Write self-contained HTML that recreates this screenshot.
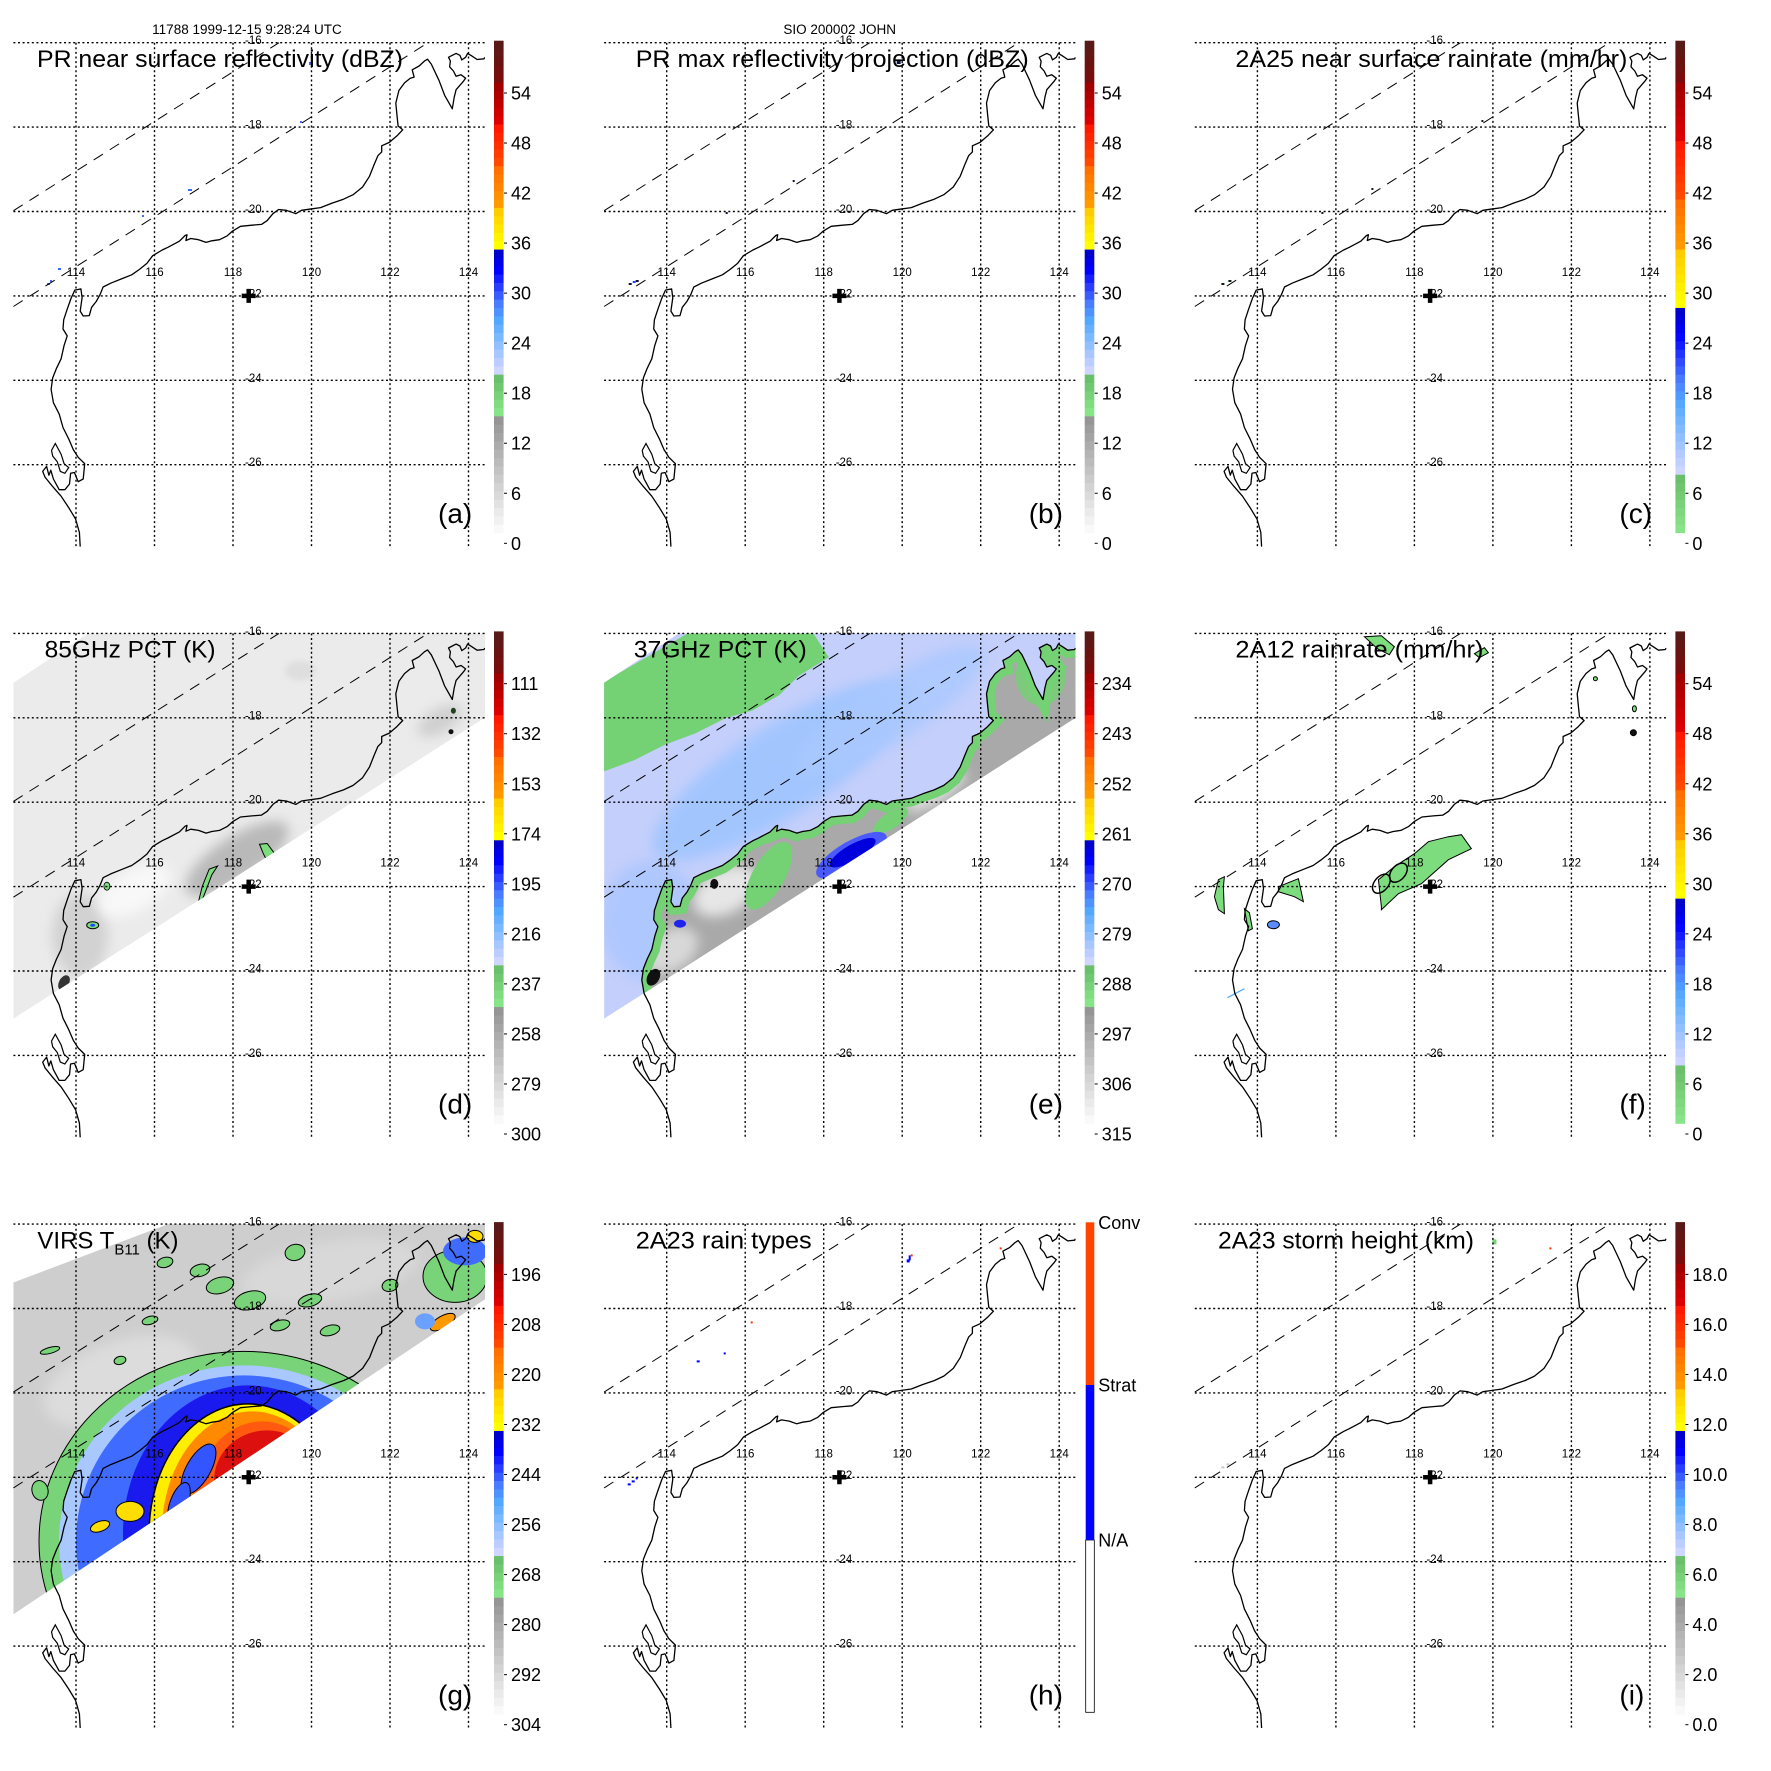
<!DOCTYPE html>
<html><head><meta charset="utf-8"><title>TRMM JOHN 1999-12-15 panels</title>
<style>
html,body{margin:0;padding:0;background:#fff;}
svg{display:block;font-family:"Liberation Sans",Arial,sans-serif;}
</style></head>
<body>
<svg id="fig" width="1771" height="1771" viewBox="0 0 1771 1771" xmlns="http://www.w3.org/2000/svg">
<defs>
<filter id="blur6" x="-50%" y="-50%" width="200%" height="200%"><feGaussianBlur stdDeviation="6"/></filter>
<filter id="blur3" x="-50%" y="-50%" width="200%" height="200%"><feGaussianBlur stdDeviation="3"/></filter>
</defs>
</svg>
<script>
// ---- data arrays ----
const lonTicks = [114,116,118,120,122,124];
const latTicks = [-16,-18,-20,-22,-24,-26];
const lonLabels = ['114','116','118','120','122','124'];
const latLabels = ['-16','-18','-20','-22','-24','-26'];
const cbLabels_dbz = ['0','6','12','18','24','30','36','42','48','54'];
const cbLabels_rain = ['0','6','12','18','24','30','36','42','48','54'];
const cbLabels_pct85 = ['300','279','258','237','216','195','174','153','132','111'];
const cbLabels_pct37 = ['315','306','297','288','279','270','261','252','243','234'];
const cbLabels_virs = ['304','292','280','268','256','244','232','220','208','196'];
const cbLabels_height = ['0.0','2.0','4.0','6.0','8.0','10.0','12.0','14.0','16.0','18.0'];
const rainTypeLabels = ['N/A','Strat','Conv'];
const stormCenter = [118.4,-22.0];

const coastMain = [[210,1432],[208,1395],[198,1360],[180,1330],[160,1300],[138,1275],[118,1250],[112,1235],[122,1222],[128,1245],[133,1232],[140,1255],[155,1283],[170,1283],[182,1268],[185,1240],[195,1238],[205,1262],[218,1255],[222,1215],[205,1198],[192,1178],[180,1150],[165,1120],[155,1085],[140,1055],[134,1020],[138,990],[148,965],[160,940],[168,905],[176,880],[165,862],[167,838],[176,810],[186,782],[196,760],[212,757],[215,780],[210,815],[218,828],[234,827],[240,805],[252,790],[262,772],[270,752],[290,742],[320,730],[345,720],[365,706],[385,690],[400,670],[425,655],[440,648],[470,632],[485,617],[490,615],[487,630],[500,625],[520,628],[540,635],[555,631],[575,628],[595,618],[610,605],[630,593],[660,590],[685,588],[700,578],[715,560],[730,549],[750,551],[775,560],[790,551],[810,548],[840,544],[870,532],[900,522],[925,510],[950,490],[968,462],[980,432],[990,408],[1000,398],[1000,382],[1020,373],[1040,356],[1055,340],[1043,330],[1040,300],[1037,270],[1045,237],[1060,217],[1075,205],[1085,202],[1080,183],[1098,173],[1112,160],[1120,155],[1130,168],[1150,210],[1165,250],[1185,285],[1190,255],[1195,235],[1215,212],[1220,205],[1208,196],[1195,200],[1188,186],[1178,175],[1180,160],[1175,150],[1185,145],[1195,140],[1205,145],[1210,157],[1220,150],[1225,140],[1235,146],[1250,156],[1268,154],[1270,150]];
const coastPeron = [[135,1180],[145,1162],[160,1190],[168,1215],[180,1225],[170,1240],[158,1235],[150,1210],[138,1195],[135,1180]];

// ---- helpers ----
const NS='http://www.w3.org/2000/svg';
const svg=document.getElementById('fig');
const defs=svg.querySelector('defs');
function mk(tag, attrs, parent){const e=document.createElementNS(NS,tag);for(const k in attrs)e.setAttribute(k,attrs[k]);(parent||svg).appendChild(e);return e;}
const S=1/2.62;
function P(arr){return arr.map(p=>(p[0]*S).toFixed(1)+','+(p[1]*S).toFixed(1)).join(' ');}
function L(arr){return arr.map(p=>p[0].toFixed(1)+','+p[1].toFixed(1)).join(' ');}
const lonX = lon => 76 + (lon-114)*39.25;
const latY = lat => 42.7 + (-16-lat)*42.2;
const MX0=13.4, MX1=485, MY0=42.7, MY1=547;
const PITCH=590.7;

function hex(c){return [parseInt(c.substr(1,2),16),parseInt(c.substr(3,2),16),parseInt(c.substr(5,2),16)];}
function ramp(cols,n){const out=[];for(let i=0;i<n;i++){const t=n==1?0:i/(n-1)*(cols.length-1);const k=Math.min(Math.floor(t),cols.length-2);const f=t-k;const a=hex(cols[k]),b=hex(cols[k+1]);out.push('rgb('+a.map((v,j)=>Math.round(v+(b[j]-v)*f)).join(',')+')');}return out;}
const blues=['#ced6ff','#a8c6ff','#7ab8ff','#52a8ff','#4a7cff','#2a3cff','#0000ff','#0000cc'];
const palGrey=[].concat(ramp(['#f9f9f9','#959595'],14),ramp(['#88e488','#6abf6a'],5),ramp(blues,15),ramp(['#ffff00','#ffcc00'],5),ramp(['#ff9a00','#ff7000'],5),ramp(['#ff4800','#ff1800'],5),ramp(['#dd0000','#a00000'],5),ramp(['#7a0c0c','#581a16'],5));
const palGreen=[].concat(ramp(['#88e488','#6abf6a'],7),ramp(blues,20),ramp(['#ffff00','#ffcc00'],7),ramp(['#ff9a00','#ff7000'],6),ramp(['#ff4800','#ff1800'],7),ramp(['#dd0000','#a00000'],7),ramp(['#7a0c0c','#581a16'],5));

const swathDE=[[13.4,92],[88,42.7],[485,42.7],[485,127],[13.4,428]];
const swathG=[[13.4,101],[168,42.7],[485,42.7],[485,118],[13.4,433]];
function clip(id,pts){const c=mk('clipPath',{id:id,clipPathUnits:'userSpaceOnUse'},defs);mk('polygon',{points:pts},c);}
clip('mapclip',L([[MX0,MY0],[MX1,MY0],[MX1,MY1],[MX0,MY1]]));
clip('swathde',L(swathDE));
clip('swathg',L(swathG));
clip('landclip',P(coastMain.concat([[1275,1440],[205,1440]])));

function colorbar(g,pal,labels){
  const segH=492/59, top=532.7;
  const cb=mk('g',{},g);
  
  
  pal.forEach((c,i)=>{
    const r=mk('rect',{x:494,y:(top-(i+1)*segH).toFixed(2),width:9.6,height:(segH+0.4).toFixed(2),fill:c},cb);
    
    
  });
  labels.forEach((t,i)=>{
    const y=top+10.6-i*6*segH+6.5;
    const tk=mk('line',{x1:504,x2:507,y1:y-6.5,y2:y-6.5,stroke:'#000','stroke-width':1},cb);
    
    
    const tx=mk('text',{x:511,y:y.toFixed(1),'font-size':18,fill:'#000'},cb);
    tx.textContent=t;
    
    
  });
}
function colorbarTypes(g){
  const cb=mk('g',{},g);
  
  
  const x=1085.7-PITCH, top=1222.3-2*PITCH, y1=1385-2*PITCH, y2=1540-2*PITCH, bot=1712.3-2*PITCH;
  const cols=['#ffffff','#0000ff','#ff4400'];
  const bounds=[[y2,bot],[y1,y2],[top,y1]];
  bounds.forEach((b,i)=>{
    const r=mk('rect',{x:x,y:b[0],width:8.6,height:b[1]-b[0],fill:cols[i],stroke:i==0?'#000':'none','stroke-width':0.8},cb);
    
    
  });
  const ys=[y2,y1,top];
  rainTypeLabels.forEach((t,i)=>{
    const tx=mk('text',{x:x+12.5,y:ys[i]+6.5,'font-size':18,fill:'#000'},cb);
    tx.textContent=t;
    
    
  });
}

function basemap(g){
  const cg=mk('g',{'clip-path':'url(#mapclip)'},g);
  
  
  mk('polyline',{points:P(coastMain),fill:'none',stroke:'#000','stroke-width':1.3,'stroke-linejoin':'round'},cg);
  mk('polyline',{points:P(coastPeron),fill:'none',stroke:'#000','stroke-width':1.2},cg);
  const gg=mk('g',{stroke:'#000','stroke-width':1.4,'stroke-dasharray':'2 2.6'},g);
  
  
  lonTicks.forEach(lo=>{const l=mk('line',{x1:lonX(lo),x2:lonX(lo),y1:MY0,y2:MY1},gg);
    
    });
  latTicks.forEach(la=>{const l=mk('line',{x1:MX0,x2:MX1,y1:latY(la),y2:latY(la)},gg);
    
    });
  const dg=mk('g',{stroke:'#000','stroke-width':1,'stroke-dasharray':'11 8',fill:'none'},g);
  
  
  mk('line',{x1:13.4,y1:210.7,x2:279,y2:42.7},dg);
  mk('line',{x1:13.4,y1:306.5,x2:428,y2:42.7},dg);
  lonTicks.forEach((lo,i)=>{const t=mk('text',{x:lonX(lo),y:276,'font-size':11.5,'text-anchor':'middle'},g);t.textContent=lonLabels[i];
    
    });
  latTicks.forEach((la,i)=>{const t=mk('text',{x:245,y:latY(la)+1.5,'font-size':11.5},g);t.textContent=latLabels[i];
    
    });
  const cx=lonX(stormCenter[0]), cy=latY(stormCenter[1]);
  const pm=mk('path',{d:`M${cx-7},${cy} H${cx+7} M${cx},${cy-7} V${cy+7}`,stroke:'#000','stroke-width':4.5},g);
  
  
}

function title(g,txt,x,w){
  const t=mk('text',{x:x,y:67,'font-size':24,fill:'#000',textLength:w,lengthAdjust:'spacingAndGlyphs'},g);
  t.textContent=txt;
  
  
  return t;
}
function letter(g,l){
  const t=mk('text',{x:438,y:523,'font-size':28,fill:'#000'},g);
  t.textContent='('+l+')';
  
  
}
function E(par,cx,cy,rx,ry,rot,fill,extra){const a={cx:cx,cy:cy,rx:rx,ry:ry,fill:fill,transform:`rotate(${rot} ${cx} ${cy})`};Object.assign(a,extra||{});return mk('ellipse',a,par);}

function panelGroup(col,row,name){
  const g=mk('g',{transform:`translate(${(col*PITCH).toFixed(1)},${(row*PITCH).toFixed(1)})`});
  
  
  return g;
}

const h1=mk('text',{x:247,y:34,'font-size':13.5,'text-anchor':'middle'});
h1.textContent='11788 1999-12-15 9:28:24 UTC';


const h2=mk('text',{x:PITCH+249,y:34,'font-size':13.5,'text-anchor':'middle'});
h2.textContent='SIO 200002 JOHN';



function specks(g,list,col){list.forEach(p=>{const r=mk('rect',{x:p[0],y:p[1],width:p[2]||3,height:p[3]||2,fill:col},g);
  
  });}

// ---- (a) ----
let g=panelGroup(0,0,'panel-a-pr-reflectivity');
specks(g,[[47,283,3,2],[50,280,2,2],[58,268,3,2],[142,215,2,2],[188,189,4,2],[300,121,2,2],[309,62,2,3]],'#3a6aff');
basemap(g);title(g,'PR near surface reflectivity (dBZ)',37,366);letter(g,'a');colorbar(g,palGrey,cbLabels_dbz);

// ---- (b) ----
g=panelGroup(1,0,'panel-b-pr-max-reflectivity');
specks(g,[[38,283,3,2],[45,280,3,2],[135,212,2,2],[202,180,2,2],[306,60,4,4]],'#101040');
specks(g,[[42,281,3,2]],'#2244ff');
basemap(g);title(g,'PR max reflectivity projection (dBZ)',45,393);letter(g,'b');colorbar(g,palGrey,cbLabels_dbz);

// ---- (c) ----
g=panelGroup(2,0,'panel-c-2a25-rainrate');
specks(g,[[40,283,3,2],[47,280,3,2],[140,212,2,2],[190,188,2,2],[300,120,2,2]],'#102010');
basemap(g);title(g,'2A25 near surface rainrate (mm/hr)',54,392);letter(g,'c');colorbar(g,palGreen,cbLabels_rain);

// ---- (d) ----
g=panelGroup(0,1,'panel-d-85ghz-pct');
let fg=mk('g',{'clip-path':'url(#swathde)'},g);


mk('polygon',{points:L(swathDE),fill:'#ebebeb'},fg);
E(fg,237,268,60,22,-33,'#b9b9b9',{filter:'url(#blur6)'});
E(fg,80,345,28,42,0,'#d2d2d2',{filter:'url(#blur6)'});
E(fg,135,300,40,20,-30,'#f8f8f8',{filter:'url(#blur6)'});
E(fg,440,130,25,12,-30,'#cfcfcf',{filter:'url(#blur6)'});
E(fg,300,80,15,10,0,'#dedede',{filter:'url(#blur3)'});
mk('polygon',{points:L([[217.6,275.3],[211.8,284.1],[206.1,299.4],[200.4,313.9],[198.5,310.8],[202.3,295.6],[209.2,278.4]]),fill:'#7ddc7d',stroke:'#000','stroke-width':1},fg);
mk('polygon',{points:L([[259.5,253.6],[267.2,252.8],[274.8,263.1],[272.9,268.9],[267.2,270.8],[263.4,263.1]]),fill:'#7ddc7d',stroke:'#000','stroke-width':1},fg);
E(fg,92.7,334.5,6,3.5,0,'#7ddc7d',{stroke:'#000','stroke-width':1});
E(fg,92.7,334.5,2.5,1.5,0,'#2244ff');
E(fg,106.9,295.5,3,4,0,'#7ddc7d',{stroke:'#000','stroke-width':0.8});
E(fg,453.4,120,2.5,3,0,'#204020');E(fg,451,141,2.5,2.5,0,'#111');
E(fg,64,392,5,8,30,'#333');
basemap(g);title(g,'85GHz PCT (K)',44.6,171);letter(g,'d');colorbar(g,palGrey,cbLabels_pct85);

// ---- (e) ----
g=panelGroup(1,1,'panel-e-37ghz-pct');
fg=mk('g',{'clip-path':'url(#swathde)'},g);


mk('polygon',{points:L(swathDE),fill:'#c4cffb'},fg);
E(fg,190,180,150,45,-33,'#9ec4ff',{filter:'url(#blur6)',opacity:0.85});
E(fg,300,120,110,30,-33,'#a9c8ff',{filter:'url(#blur6)',opacity:0.8});
E(fg,60,330,50,60,0,'#a6c4ff',{filter:'url(#blur6)',opacity:0.7});
mk('polygon',{points:L([[13.1,91.2],[97,42.7],[222.7,42.7],[238,66.5],[207.5,85.5],[188.4,104.6],[161.7,119.8],[135,127.4],[104.6,142.7],[74.1,154.1],[43.6,169.4],[13.1,180.8]]),fill:'#74d174'},fg);
let lg=mk('g',{'clip-path':'url(#landclip)'},fg);
mk('rect',{x:0,y:0,width:500,height:560,fill:'#a9a9a9'},lg);
E(lg,135,300,35,22,-30,'#e6e6e6',{filter:'url(#blur6)'});
E(lg,345,200,35,12,-33,'#dcdcdc',{filter:'url(#blur6)'});
E(lg,80,360,30,20,-33,'#d8d8d8',{filter:'url(#blur6)'});
mk('polyline',{points:P(coastMain),fill:'none',stroke:'#74d174','stroke-width':16},lg);
E(lg,178,285,16,38,30,'#74d174');
E(lg,300,230,20,8,-33,'#74d174');
E(lg,450,85,25,30,0,'#74d174',{opacity:0.8});
E(fg,260.8,264.6,40,14,-30,'#4a5aff');
E(fg,262,262,26,8,-30,'#0000dd');
E(fg,89.3,333,6,4,0,'#2222ee');
E(fg,123.6,293.2,4,5,0,'#111');
E(fg,62.7,386.6,6,9,30,'#111');
basemap(g);title(g,'37GHz PCT (K)',43,173);letter(g,'e');colorbar(g,palGrey,cbLabels_pct37);

// ---- (f) ----
g=panelGroup(2,1,'panel-f-2a12-rainrate');
fg=mk('g',{'clip-path':'url(#mapclip)',fill:'#7ddc7d',stroke:'#000','stroke-width':1},g);


mk('polygon',{points:L([[200,316],[197,289],[213,276],[233,263],[247,251],[267,246],[280,244],[290,258],[267,269],[240,293],[217,303],[200,319]])},fg);
mk('polygon',{points:L([[97,296],[117,288],[122,311],[113,306],[97,301]])},fg);
mk('polygon',{points:L([[37,289],[43,286],[42,296],[43,323],[37,319],[33,306]])},fg);
mk('polygon',{points:L([[63,318],[68,322],[71,338],[67,340]])},fg);
mk('polygon',{points:L([[183,46],[200,45],[213,56],[208,64],[196,58]])},fg);
mk('polygon',{points:L([[293,63],[303,57],[307,62],[298,67]])},fg);
E(fg,92,334,6,4,0,'#5a8cff');
E(fg,452,142,3,3,0,'#111');E(fg,414,88,2,2,0,'#7ddc7d');E(fg,453,118,2,3,0,'#7ddc7d');
E(fg,200,293,7,11,40,'none',{'stroke-width':1.5});
E(fg,217,282,7,11,40,'none',{'stroke-width':1.5});
mk('line',{x1:46,y1:407,x2:63,y2:398,stroke:'#55aaff','stroke-width':1.2},g);
basemap(g);title(g,'2A12 rainrate (mm/hr)',54,248);letter(g,'f');colorbar(g,palGreen,cbLabels_rain);

// ---- (g) ----
g=panelGroup(0,2,'panel-g-virs-tb11');
fg=mk('g',{'clip-path':'url(#swathg)'},g);


mk('polygon',{points:L(swathG),fill:'#cecece'},fg);
E(fg,120,200,80,40,-20,'#dcdcdc',{filter:'url(#blur6)'});
E(fg,330,90,90,30,-10,'#d8d8d8',{filter:'url(#blur6)'});
E(fg,244,360,205,190,0,'#79d479',{stroke:'#000','stroke-width':1});
E(fg,244,360,185,176,0,'#a9c8ff');
E(fg,244,360,168,166,0,'#3f6bff');
E(fg,248,352,125,148,0,'#1a1aee');
E(fg,248,352.5,99,130,0,'#ffee00',{stroke:'#000','stroke-width':1.5});
E(fg,252,350,90,120,0,'#ff8a00');
E(fg,262,330,70,90,0,'#ff5a10');
E(fg,267,299,53,50,0,'#dd1010');
E(fg,198.5,287.6,12,28,30,'#3355ff',{stroke:'#000','stroke-width':1});
E(fg,179,322,9,22,20,'#3355ff',{stroke:'#000','stroke-width':1});
E(fg,130,330,14,10,0,'#ffdd00',{stroke:'#000','stroke-width':1});
E(fg,100,345,10,5,-20,'#ffdd00',{stroke:'#000','stroke-width':1});
E(fg,455,95,32,26,0,'#79d479',{stroke:'#000','stroke-width':1});
E(fg,465,70,22,14,0,'#3f6bff');
E(fg,475,55,8,6,0,'#ffdd00',{stroke:'#000','stroke-width':1});
E(fg,442.7,140.7,14,6,-30,'#ff9900',{stroke:'#000','stroke-width':1});
E(fg,425,140,10,8,0,'#6aa0ff');
const blobs=[[50,160,10,3],[165,72,8,5],[200,80,10,6],[220,95,14,8],[250,110,16,9],[295,62,10,8],[310,110,12,6],[150,130,8,4],[120,170,6,4],[60,420,8,5],[40,300,8,10],[330,140,10,5],[280,135,10,5],[390,95,8,6]];
blobs.forEach(b=>{const e=E(fg,b[0],b[1]+9,b[2],b[3],-15,'#79d479',{stroke:'#000','stroke-width':1});
  
  });
basemap(g);
const tg=mk('text',{x:37.4,y:67,'font-size':24},g);


tg.appendChild(document.createTextNode('VIRS T'));
const sub=mk('tspan',{'font-size':15,dy:6},tg);sub.textContent='B11';
const rest=mk('tspan',{dy:-6},tg);rest.textContent=' (K)';
letter(g,'g');colorbar(g,palGrey,cbLabels_virs);

// ---- (h) ----
g=panelGroup(1,2,'panel-h-2a23-rain-types');
specks(g,[[318,74,2,5],[316,78,3,3],[37,302,3,2],[41,299,3,2],[45,296,2,2],[106,179,3,2],[133,171,2,2]],'#0000ff');
specks(g,[[320,73,2,2],[409,66,2,2],[160,140,2,2]],'#ff3300');
basemap(g);title(g,'2A23 rain types',45,176);letter(g,'h');colorbarTypes(g);

// ---- (i) ----
g=panelGroup(2,2,'panel-i-2a23-storm-height');
specks(g,[[311,58,4,5],[313,60,2,2]],'#79d479');
specks(g,[[40,285,3,2],[45,282,3,2],[135,211,2,2],[188,193,3,2]],'#c8c8c8');
specks(g,[[368,66,2,2]],'#ff3300');
basemap(g);title(g,'2A23 storm height (km)',36.6,256);letter(g,'i');colorbar(g,palGrey,cbLabels_height);
</script>
</body></html>
